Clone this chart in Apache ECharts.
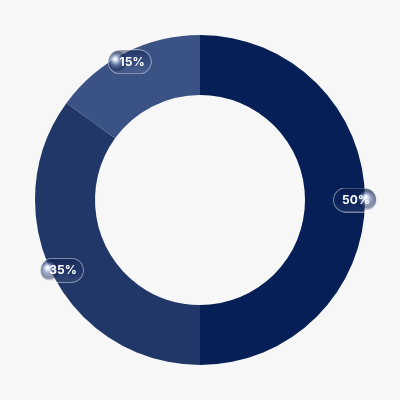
<!DOCTYPE html>
<html><head><meta charset="utf-8">
<script src="https://cdn.jsdelivr.net/npm/echarts@6/dist/echarts.min.js"></script>
<style>html,body{margin:0;padding:0;background:#f7f7f7;}#c{width:400px;height:400px;}</style>
</head><body><div id="c"></div>
<script>
var categories = ['A', 'B', 'C'];
var values = [50, 35, 15];
var labels = ['50%', '35%', '15%'];
var colors = ['#061f56', '#213768', '#3b5284'];
var ballSide = ['right', 'left', 'left'];

function makePill(side) {
  var W = 44, H = 25, s = 2;
  var c = document.createElement('canvas');
  c.width = W * s; c.height = H * s;
  var ctx = c.getContext('2d');
  ctx.scale(s, s);
  function path() {
    var r = H / 2 - 0.5;
    ctx.beginPath();
    ctx.moveTo(0.5 + r, 0.5);
    ctx.lineTo(W - 0.5 - r, 0.5);
    ctx.arc(W - 0.5 - r, H / 2, r, -Math.PI / 2, Math.PI / 2);
    ctx.lineTo(0.5 + r, H - 0.5);
    ctx.arc(0.5 + r, H / 2, r, Math.PI / 2, Math.PI * 1.5);
    ctx.closePath();
  }
  path();
  var lg = ctx.createLinearGradient(0, 0, 0, H);
  lg.addColorStop(0, 'rgba(10,25,70,0.5)');
  lg.addColorStop(0.6, 'rgba(40,60,110,0.15)');
  lg.addColorStop(1, 'rgba(255,255,255,0.06)');
  ctx.fillStyle = lg;
  ctx.fill();
  ctx.save();
  path();
  ctx.clip();
  var bx = side === 'left' ? 9 : W - 10, by = 12;
  var hx = bx - 1.5;
  var g = ctx.createRadialGradient(hx, by - 2.5, 0.5, bx, by, 11);
  g.addColorStop(0, 'rgba(255,255,255,1)');
  g.addColorStop(0.2, 'rgba(215,225,245,0.85)');
  g.addColorStop(0.5, 'rgba(100,120,170,0.6)');
  g.addColorStop(0.8, 'rgba(15,28,70,0.45)');
  g.addColorStop(1, 'rgba(15,28,70,0)');
  ctx.fillStyle = g;
  ctx.beginPath(); ctx.arc(bx, by, 11, 0, Math.PI * 2); ctx.fill();
  ctx.restore();
  path();
  ctx.strokeStyle = 'rgba(255,255,255,0.45)';
  ctx.lineWidth = 1;
  ctx.stroke();
  return c;
}

var textStyle = { color: '#ffffff', fontSize: 12, fontWeight: 'bold', fontFamily: 'Inter, Roboto, sans-serif', height: 19, lineHeight: 19, width: 24 };
var rich = {
  pl: Object.assign({}, textStyle, { backgroundColor: { image: makePill('left') }, align: 'right', padding: [3, 7, 3, 13] }),
  pr: Object.assign({}, textStyle, { backgroundColor: { image: makePill('right') }, align: 'left', padding: [3, 11, 3, 9] })
};

var chart = echarts.init(document.getElementById('c'));
var mainData = categories.map(function (c, i) {
  return { name: c, value: values[i], itemStyle: { color: colors[i] } };
});
var labelData = categories.map(function (c, i) {
  return { name: c, value: values[i] };
});
chart.setOption({
  backgroundColor: '#f7f7f7',
  animation: false,
  series: [
    {
      type: 'pie', center: ['50%', '50%'], radius: [105, 165],
      startAngle: 90, silent: true,
      label: { show: false }, labelLine: { show: false },
      data: mainData
    },
    {
      type: 'pie', center: ['50%', '50%'], radius: [139, 165],
      startAngle: 90, silent: true,
      itemStyle: { color: 'rgba(0,0,0,0)' },
      labelLine: { show: false },
      label: {
        show: true, position: 'inside',
        formatter: function (p) {
          var i = p.dataIndex;
          return '{' + (ballSide[i] === 'left' ? 'pl' : 'pr') + '|' + labels[i] + '}';
        },
        rich: rich
      },
      data: labelData
    }
  ]
});
</script></body></html>
